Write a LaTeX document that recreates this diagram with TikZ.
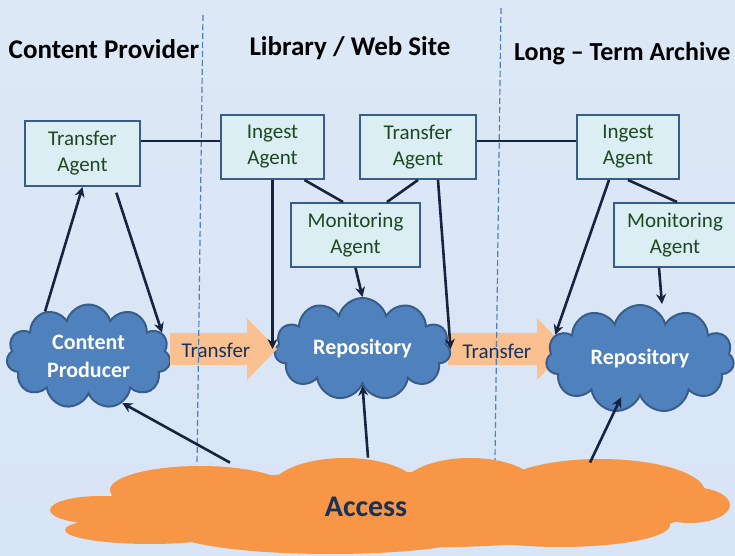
\documentclass[tikz,border=0pt]{standalone}
\usepackage{fontspec}
\setmainfont{Carlito}
\usetikzlibrary{shapes.symbols,arrows.meta}
\definecolor{boxfill}{RGB}{219,238,244}
\definecolor{boxline}{RGB}{56,93,138}
\definecolor{agenttext}{RGB}{30,72,32}
\definecolor{cloudblue}{RGB}{79,129,189}
\definecolor{accessorange}{RGB}{247,150,70}
\definecolor{peach}{RGB}{250,192,144}
\definecolor{navy}{RGB}{23,50,90}
\definecolor{linkcol}{RGB}{22,36,64}
\definecolor{dividerblue}{RGB}{79,129,189}
\definecolor{bgtop}{RGB}{221,232,246}
\definecolor{bgmid}{RGB}{199,217,240}
\definecolor{bgbot}{RGB}{216,229,246}
\begin{document}
\begin{tikzpicture}[x=0.5pt, y=-0.5pt, line join=miter,
    agent/.style={draw=boxline, line width=1pt, fill=boxfill, text=agenttext, align=center, inner sep=0pt, minimum height=32pt, font=\fontsize{10.5}{13}\selectfont},
    repo/.style={cloud, cloud puffs=11, cloud ignores aspect, draw=boxline, line width=1pt, fill=cloudblue, text=white, align=center, inner sep=0pt, font=\bfseries\fontsize{11}{14}\selectfont},
    head/.style={font=\bfseries\fontsize{13.5}{16}\selectfont},
    flow/.style={text=navy, font=\fontsize{10.5}{13}\selectfont},
    divider/.style={draw=dividerblue, line width=0.6pt, dash pattern=on 3pt off 1.5pt},
    link/.style={draw=linkcol, line width=1.3pt},
    >={Stealth[length=5pt, width=5pt]}]
    \useasboundingbox (0,0) rectangle (735,556);
    \clip (0,0) rectangle (735,556);
    \shade[top color=bgtop, middle color=bgmid, bottom color=bgbot] (0,0) rectangle (735,556);

    \fill[accessorange] (100,510) ellipse (50 and 14)
        (200,490) ellipse (90 and 24)
        (345,490) ellipse (75 and 32)
        (470,490) ellipse (70 and 32)
        (600,492) ellipse (105 and 33)
        (690,505) ellipse (40 and 18)
        (150,530) ellipse (85 and 14)
        (330,530) ellipse (160 and 24)
        (560,525) ellipse (110 and 22)
        (390,510) ellipse (300 and 38);
    \node[text=navy, minimum height=49pt, font=\bfseries\fontsize{15}{18}\selectfont] (acc) at (366,507) {Access};

    \fill[peach] (448,333) -- (537,333) -- (537,318) -- (567,349) -- (537,380) -- (537,365) -- (448,365) -- cycle;

    \node[repo, minimum width=82pt, minimum height=52pt] (cp) at (88.5,356.5) {Content\\Producer};
    \node[repo, minimum width=88pt, minimum height=51pt] (rp2) at (362.5,349) {Repository};
    \node[repo, minimum width=94pt, minimum height=54pt] (rp3) at (640,359) {Repository};

    \fill[peach] (170,333) -- (247,333) -- (247,318) -- (277,349) -- (247,380) -- (247,365) -- (170,365) -- cycle;
    \node[flow] (tr1) at (216,350) {Transfer};
    \node[flow] (tr2) at (497,351) {Transfer};

    \draw[divider] (203,15) -- (197,465);
    \draw[divider] (501,8) -- (495,460);

    \node[head] (hcp) at (104,49) {Content Provider};
    \node[head] (hlw) at (350,48) {Library / Web Site};
    \node[head, anchor=west, font=\bfseries\fontsize{13}{16}\selectfont] (hlt) at (507,54) {Long – Term Archive};

    \node[agent, minimum width=57.5pt, minimum height=32.5pt] (ta1) at (82.5,153.5) {Transfer\\Agent};
    \node[agent, minimum width=51.5pt] (ia2) at (272.5,147) {Ingest\\Agent};
    \node[agent, minimum width=58pt] (ta2) at (418,147) {Transfer\\Agent};
    \node[agent, minimum width=64.5pt] (ma2) at (355.5,235) {Monitoring\\Agent};
    \node[agent, minimum width=51pt] (ia3) at (628,147) {Ingest\\Agent};
    \node[agent, minimum width=61pt] (ma3) at (675,235) {Monitoring\\Agent};

    \draw[link] ([yshift=6.25pt]ta1.east) -- ([yshift=3pt]ia2.west);
    \draw[link] ([yshift=3pt]ta2.east) -- ([yshift=3pt]ia3.west);
    \draw[link, ->] (cp.134) -- (ta1.south);
    \draw[link, ->, shorten <=3pt] ([xshift=16pt]ta1.south) -- (cp.18);
    \draw[link, ->] (ia2.south) -- (ia2.south |- rp2.west);
    \draw[link] ([xshift=16pt]ia2.south) -- ([xshift=-6.25pt]ma2.north);
    \draw[link] (ta2.south) -- ([xshift=15.75pt]ma2.north);
    \draw[link, ->] (ma2.south) -- (rp2.north);
    \draw[link, ->] ([xshift=10pt]ta2.south) -- (rp2.east);
    \draw[link, ->] ([xshift=-9.5pt]ia3.south) -- (rp3.164);
    \draw[link] (ia3.south) -- ([xshift=1pt]ma3.north);
    \draw[link, ->] ([xshift=-8pt]ma3.south) -- ([xshift=11pt]rp3.north);
    \draw[link, ->] ([xshift=-68pt, yshift=-2.5pt]acc.north) -- (cp.306);
    \draw[link, ->] ([xshift=1pt]acc.north) -- (rp2.south);
    \draw[link, ->] ([xshift=112pt, yshift=-2.5pt]acc.north) -- ([xshift=-9.5pt]rp3.south);
\end{tikzpicture}
\end{document}
